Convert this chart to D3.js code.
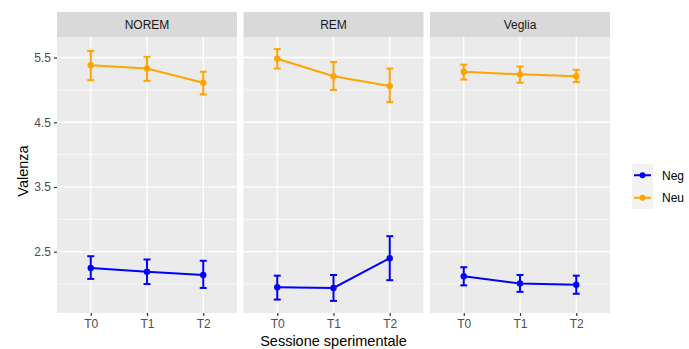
<!DOCTYPE html>
<html><head><meta charset="utf-8">
<script src="https://cdn.jsdelivr.net/npm/d3@7"></script>
<style>body{margin:0;background:#fff}svg{display:block;font-family:"Liberation Sans",Arial,sans-serif}</style>
</head><body><svg id="c" width="689" height="349"></svg>
<script>
const panels = ["NOREM","REM","Veglia"];
const sessions = ["T0","T1","T2"];
const groups = ["Neg","Neu"];
const colors = ["#0000FF","#FFA500"];
const yTicks = [2.5,3.5,4.5,5.5];
const yMinor = [2,3,4,5];
// mean values [panel][session]
const negMean = [[2.25,2.19,2.14],[1.95,1.94,2.40],[2.12,2.01,1.99]];
const negLo   = [[2.08,2.00,1.94],[1.76,1.74,2.06],[1.98,1.88,1.85]];
const negHi   = [[2.43,2.38,2.36],[2.13,2.14,2.74],[2.26,2.14,2.13]];
const neuMean = [[5.38,5.33,5.11],[5.48,5.21,5.06],[5.28,5.24,5.21]];
const neuLo   = [[5.15,5.14,4.93],[5.33,5.00,4.81],[5.16,5.11,5.12]];
const neuHi   = [[5.60,5.51,5.28],[5.63,5.43,5.33],[5.39,5.36,5.31]];

const svg = d3.select("#c");
const panelX = [57,243.5,430];
const panelW = 180;
const pTop = 37, pBottom = 313, stripTop = 12;
const y = d3.scaleLinear().domain([1.553,5.817]).range([pBottom, pTop]);
const series = [
  {mean:negMean, lo:negLo, hi:negHi},
  {mean:neuMean, lo:neuLo, hi:neuHi}
];
const FF = "Liberation Sans, Arial, sans-serif";

panels.forEach((p,i)=>{
  const g = svg.append("g").attr("transform",`translate(${panelX[i]},0)`);
  const x = d3.scalePoint().domain(sessions).range([0,panelW]).padding(0.6);
  g.append("rect").attr("x",0).attr("y",stripTop).attr("width",panelW).attr("height",pTop-stripTop).attr("fill","#D9D9D9");
  g.append("text").attr("x",panelW/2).attr("y",(stripTop+pTop)/2+4.5).attr("text-anchor","middle").attr("font-size",12).attr("fill","#1A1A1A").text(p);
  g.append("rect").attr("x",0).attr("y",pTop).attr("width",panelW).attr("height",pBottom-pTop).attr("fill","#EBEBEB");
  yMinor.forEach(v=>g.append("line").attr("x1",0).attr("x2",panelW).attr("y1",y(v)).attr("y2",y(v)).attr("stroke","#fff").attr("stroke-width",0.6));
  yTicks.forEach(v=>g.append("line").attr("x1",0).attr("x2",panelW).attr("y1",y(v)).attr("y2",y(v)).attr("stroke","#fff").attr("stroke-width",1.3));
  sessions.forEach(s=>g.append("line").attr("x1",x(s)).attr("x2",x(s)).attr("y1",pTop).attr("y2",pBottom).attr("stroke","#fff").attr("stroke-width",1.3));
  const xa = g.append("g").attr("transform",`translate(0,${pBottom})`).call(d3.axisBottom(x).tickSize(3).tickPadding(3));
  xa.select(".domain").remove();
  xa.selectAll("line").attr("stroke","#333").attr("stroke-width",1.2);
  xa.selectAll("text").attr("font-size",12).attr("fill","#4D4D4D").attr("font-family",FF);
  if(i===0){
    const ya = g.append("g").call(d3.axisLeft(y).tickValues(yTicks).tickSize(3).tickPadding(3).tickFormat(d3.format(".1f")));
    ya.select(".domain").remove();
    ya.selectAll("line").attr("stroke","#333").attr("stroke-width",1.2);
    ya.selectAll("text").attr("font-size",12).attr("fill","#4D4D4D").attr("font-family",FF);
  }
  series.forEach((se,k)=>{
    const c = colors[k];
    const pts = sessions.map((s,j)=>({s, m:se.mean[i][j], lo:se.lo[i][j], hi:se.hi[i][j]}));
    g.append("path").datum(pts).attr("fill","none").attr("stroke",c).attr("stroke-width",2)
      .attr("d",d3.line().x(d=>x(d.s)).y(d=>y(d.m)));
    pts.forEach(d=>{
      const cx = x(d.s);
      g.append("line").attr("x1",cx).attr("x2",cx).attr("y1",y(d.lo)).attr("y2",y(d.hi)).attr("stroke",c).attr("stroke-width",2);
      [d.lo,d.hi].forEach(v=>g.append("line").attr("x1",cx-3.5).attr("x2",cx+3.5).attr("y1",y(v)).attr("y2",y(v)).attr("stroke",c).attr("stroke-width",2));
      g.append("circle").attr("cx",cx).attr("cy",y(d.m)).attr("r",3.2).attr("fill",c);
    });
  });
});

svg.append("text").attr("transform",`translate(28,171) rotate(-90)`).attr("text-anchor","middle")
  .attr("font-size",14.5).attr("fill","#000").text("Valenza");
svg.append("text").attr("x",(57+610)/2).attr("y",346).attr("text-anchor","middle")
  .attr("font-size",14.5).attr("fill","#000").text("Sessione sperimentale");

const lg = svg.append("g").attr("transform","translate(632,164)");
groups.forEach((gname,k)=>{
  const yy = k*22.5;
  lg.append("rect").attr("x",0).attr("y",yy).attr("width",21).attr("height",22.5).attr("fill","#F2F2F2");
  lg.append("line").attr("x1",2).attr("x2",19).attr("y1",yy+11.25).attr("y2",yy+11.25).attr("stroke",colors[k]).attr("stroke-width",2);
  lg.append("circle").attr("cx",10.5).attr("cy",yy+11.25).attr("r",3).attr("fill",colors[k]);
  lg.append("text").attr("x",30).attr("y",yy+15.5).attr("font-size",12).attr("fill","#000").text(gname);
});
</script></body></html>
